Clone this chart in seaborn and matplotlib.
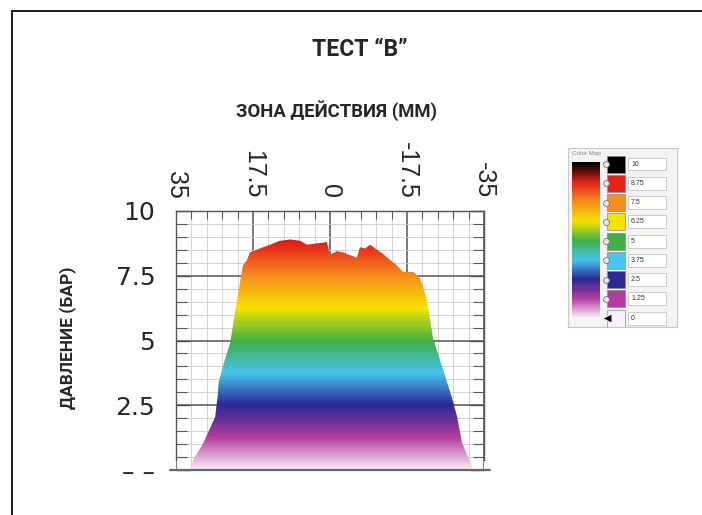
import numpy as np
import matplotlib
matplotlib.use('Agg')
import matplotlib.pyplot as plt
import seaborn as sns
from matplotlib.colors import LinearSegmentedColormap, Normalize
from matplotlib.patches import Rectangle
from matplotlib.lines import Line2D
from matplotlib.ticker import MultipleLocator

sns.set_style('white')
plt.rcParams['font.family'] = ['Liberation Sans', 'DejaVu Sans']
plt.rcParams['axes.unicode_minus'] = False
narrow = ['Roboto', 'Liberation Sans', 'DejaVu Sans']

# ==================== данные ====================
# профиль давления: зона действия (мм) -> давление (бар)
profile_x = [31.6, 31.1, 28.9, 27.3, 26.1, 25.5, 25.3, 24.0, 22.7, 21.1, 19.8, 18.9,
             18.2, 16.0, 13.6, 11.4, 9.0, 6.8, 5.2, 3.0, 0.7, 0.0, -1.5, -3.0,
             -4.5, -6.1, -6.8, -8.0, -9.1, -10.7, -12.0, -13.0, -15.2, -16.6,
             -18.9, -20.5, -22.0, -23.4, -26.6, -27.7, -28.9, -30.0, -31.4, -32.6]
profile_y = [0.0, 0.4, 1.0, 1.6, 2.05, 2.9, 3.4, 4.2, 4.9, 6.6, 7.9, 8.1,
             8.4, 8.55, 8.7, 8.85, 8.9, 8.85, 8.7, 8.75, 8.8, 8.3, 8.45, 8.4,
             8.3, 8.2, 8.6, 8.55, 8.7, 8.5, 8.35, 8.2, 7.9, 7.65,
             7.65, 7.4, 6.6, 5.1, 3.4, 2.8, 2.05, 1.05, 0.5, 0.0]

x_ticks = [35, 17.5, 0, -17.5, -35]
x_tick_labels = ['35', '17.5', '0', '-17.5', '-35']
y_ticks = [0, 2.5, 5, 7.5, 10]
y_tick_labels = ['– –', '2.5', '5', '7.5', '10']

# шкала цвета
levels = [0, 1.25, 2.5, 3.75, 5, 6.25, 7.5, 8.75, 10]
level_labels = ['0', '1.25', '2.5', '3.75', '5', '6.25', '7.5', '8.75', '10']
level_colors = ['#fbf0fa', '#b43c9e', '#2c2896', '#48c4ee', '#3eb045',
                '#f6e300', '#f68e1e', '#e6231b', '#000000']

cmap = LinearSegmentedColormap.from_list(
    'pressure', list(zip(np.array(levels) / max(levels), level_colors)))
norm = Normalize(min(levels), max(levels))

W, H = 702, 515
fig = plt.figure(figsize=(W / 100, H / 100), dpi=100)

# ==================== основной график ====================
ax = fig.add_axes([176 / W, 1 - 470 / H, 308 / W, 259 / H])
fill = ax.fill_between(profile_x, profile_y, 0, color='none', lw=0)
grad = ax.imshow(np.array(levels)[:, None], cmap=cmap, norm=norm, origin='lower',
                 extent=(35, -35, -0.625, 10.625), aspect='auto',
                 interpolation='bilinear', zorder=2)
grad.set_clip_path(fill.get_paths()[0], transform=ax.transData)
ax.set_xlim(35, -35)
ax.set_ylim(0, 10)

ax.set_xticks(x_ticks, x_tick_labels)
ax.set_yticks(y_ticks, y_tick_labels)
ax.xaxis.set_minor_locator(MultipleLocator(3.5))
ax.yaxis.set_minor_locator(MultipleLocator(0.5))
ax.set_axisbelow(True)
ax.grid(which='major', color='#555555', lw=1.1)
ax.grid(which='minor', color='#cccccc', lw=0.6)

ax.xaxis.tick_top()
ax.tick_params(axis='x', which='both', top=True, bottom=False, labeltop=True,
               labelbottom=False, direction='in', color='#555555')
ax.tick_params(axis='x', which='major', labelrotation=270, labelsize=18, pad=9, length=0)
ax.tick_params(axis='x', which='minor', length=6, width=0.8)
ax.tick_params(axis='y', which='both', left=True, right=True, direction='in',
               color='#555555')
ax.tick_params(axis='y', which='major', labelsize=18, pad=15, length=10, width=1)
ax.tick_params(axis='y', which='minor', length=8, width=0.8)
for lab in ax.get_yticklabels():
    lab.set_family(['DejaVu Sans'])

for s in ['left', 'right', 'top']:
    ax.spines[s].set_color('#555555')
    ax.spines[s].set_linewidth(1.0)
ax.spines['left'].set_bounds(0.4, 10)
ax.spines['right'].set_bounds(0.4, 10)
ax.spines['bottom'].set_visible(False)
ax.plot([-0.02, 1.02], [0, 0], transform=ax.transAxes, color='#666666',
        lw=1.6, clip_on=False)

# ==================== подписи ====================
fig.text(360 / W, 1 - 50 / H, 'ТЕСТ “В”', ha='center', va='center',
         fontsize=16.5, fontweight='bold', family=narrow)
fig.text(337 / W, 1 - 111 / H, 'ЗОНА ДЕЙСТВИЯ (ММ)', ha='center', va='center',
         fontsize=13.3, fontweight='bold', family=narrow)
fig.text(68 / W, 1 - 338 / H, 'ДАВЛЕНИЕ (БАР)', ha='center', va='center',
         rotation=90, fontsize=12.5, fontweight='bold', family=narrow)

# ==================== шкала цвета справа ====================
lax = fig.add_axes([568 / W, 1 - 327 / H, 109 / W, 179 / H])
lax.set_facecolor('#f3f3f3')
bar = lax.imshow(np.array(levels)[:, None], cmap=cmap, norm=norm, origin='lower',
                 extent=(4, 32, -0.625, 10.625), aspect='auto',
                 interpolation='bilinear')
bar.set_clip_path(Rectangle((4, 0.06), 28, 10.07, transform=lax.transData))
lax.set_xlim(0, 109)
lax.set_ylim(-0.58, 11.04)
lax.set_xticks([])
lax.set_yticks([])
for s in lax.spines.values():
    s.set_color('#c8c8c8')
    s.set_linewidth(0.8)

sns.scatterplot(x=[48] * len(levels), y=levels, hue=level_labels,
                palette=dict(zip(level_labels, level_colors)), marker='s', s=150,
                edgecolor='#8a8a8a', linewidth=0.5, legend=False, ax=lax, zorder=3)
sns.scatterplot(x=[38] * (len(levels) - 1), y=levels[1:], marker='o', s=18,
                color='#e8e8e8', edgecolor='#777777', linewidth=0.6,
                legend=False, ax=lax, zorder=3)
sns.scatterplot(x=[39], y=levels[:1], marker='<', s=40, color='black',
                legend=False, ax=lax, zorder=3)
for lv, lab in zip(levels, level_labels):
    lax.add_patch(Rectangle((60, lv - 0.42), 38, 0.84, fc='white', ec='#c4c4c4',
                            lw=0.6, zorder=2))
    lax.text(63, lv, lab, fontsize=5, va='center', ha='left', color='#333333', zorder=4)
lax.text(4, 10.7, 'Color Map', fontsize=4.5, color='#888888', va='center')
lax.set_xlabel('')
lax.set_ylabel('')

# ==================== рамка ====================
fig.add_artist(Line2D([11.5 / W, 11.5 / W], [0, 1 - 10.5 / H], color='#1a1a1a', lw=1.4))
fig.add_artist(Line2D([11.5 / W, 1], [1 - 10.5 / H, 1 - 10.5 / H], color='#1a1a1a', lw=1.4))

fig.savefig('out.png', dpi=100)
